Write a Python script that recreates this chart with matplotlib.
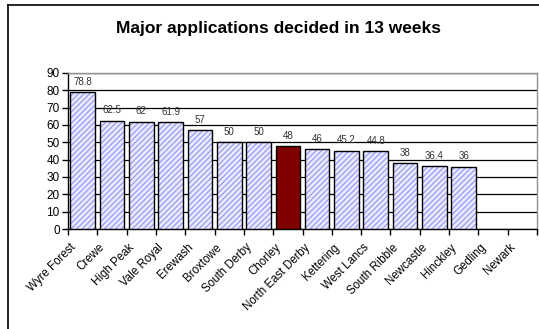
import matplotlib
matplotlib.use("Agg")
import matplotlib.pyplot as plt
from matplotlib.lines import Line2D
import numpy as np

categories = ["Wyre Forest", "Crewe", "High Peak", "Vale Royal", "Erewash",
              "Broxtowe", "South Derby", "Chorley", "North East Derby",
              "Kettering", "West Lancs", "South Ribble", "Newcastle",
              "Hinckley", "Gedling", "Newark"]
values = [78.8, 62.5, 62, 61.9, 57, 50, 50, 48, 46, 45.2, 44.8, 38, 36.4, 36,
          None, None]
value_labels = ["78.8", "62.5", "62", "61.9", "57", "50", "50", "48", "46",
                "45.2", "44.8", "38", "36.4", "36", "", ""]
highlight = "Chorley"
yticks = [0, 10, 20, 30, 40, 50, 60, 70, 80, 90]
title = "Major applications decided in 13 weeks"

plt.rcParams["font.family"] = ["Liberation Sans", "DejaVu Sans"]
plt.rcParams["hatch.linewidth"] = 0.8

fig = plt.figure(figsize=(5.39, 3.29), dpi=100)
ax = fig.add_axes([68 / 539, 1 - 229 / 329, (537 - 68) / 539, (229 - 73) / 329])

x = np.arange(len(categories))
heights = [v if v is not None else 0 for v in values]
width = 0.84

for i, (cat, h) in enumerate(zip(categories, heights)):
    if values[i] is None:
        continue
    if cat == highlight:
        ax.bar(x[i], h, width=width, color="#800000", edgecolor="black",
               linewidth=1.0, zorder=3)
    else:
        ax.bar(x[i], h, width=width, color="#e8e8ff", edgecolor="#9494f4",
               hatch="//////", linewidth=0, zorder=3)
        ax.bar(x[i], h, width=width, fill=False, edgecolor="black",
               linewidth=1.0, zorder=4)
    ax.text(x[i], h + 3.0, value_labels[i], ha="center", va="bottom",
            fontsize=7, color="#333333", zorder=5)

ax.set_xlim(-0.5, len(categories) - 0.5)
ax.set_ylim(0, 90)
ax.set_yticks(yticks)
ax.set_yticklabels([str(t) for t in yticks], fontsize=8.5)
ax.yaxis.grid(True, color="black", linewidth=0.9, zorder=0)
ax.set_axisbelow(True)

# category labels sit at bar centres, tick marks at bar boundaries
ax.set_xticks(np.arange(len(categories) + 1) - 0.5)
ax.set_xticklabels([])
ax.tick_params(axis="x", length=4, width=1, color="black", direction="out")
ax.tick_params(axis="y", length=4, width=1, color="black", direction="out", pad=2)
for i, cat in enumerate(categories):
    ax.annotate(cat, xy=(x[i], 0), xycoords="data", xytext=(-9.5, -9),
                textcoords="offset points", rotation=45, ha="right", va="top",
                rotation_mode="anchor", fontsize=8.3, annotation_clip=False)

for side in ("top", "right"):
    ax.spines[side].set_color("#909090")
    ax.spines[side].set_linewidth(1.0)
ax.spines["left"].set_color("black")
ax.spines["bottom"].set_color("black")
ax.spines["left"].set_linewidth(1.0)
ax.spines["bottom"].set_linewidth(1.0)

fig.text(278 / 539, 1 - 28 / 329, title, ha="center", va="center",
         fontsize=12.5, fontweight="bold")

# outer chart frame
fig.add_artist(Line2D([8 / 539, 1.0], [1 - 5 / 329, 1 - 5 / 329],
                      color="black", linewidth=1.2, transform=fig.transFigure))
fig.add_artist(Line2D([8 / 539, 8 / 539], [0, 1 - 5 / 329],
                      color="black", linewidth=1.2, transform=fig.transFigure))

fig.savefig("out.png", dpi=100)
